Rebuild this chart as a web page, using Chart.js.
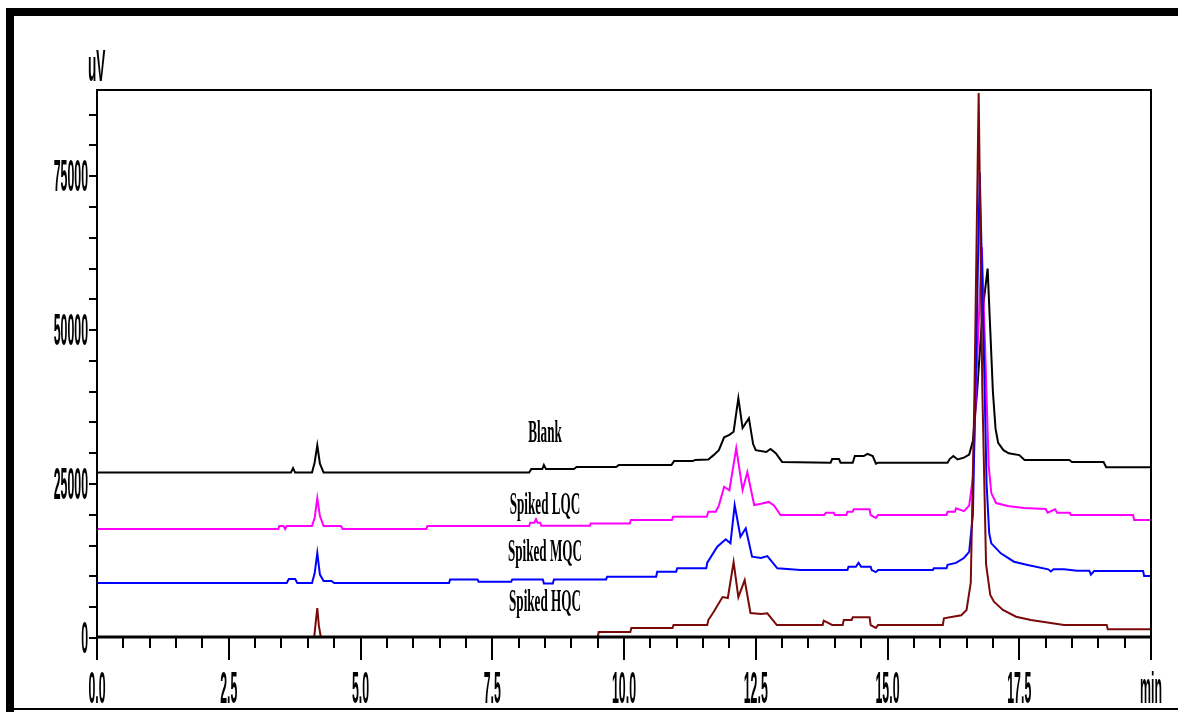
<!DOCTYPE html>
<html>
<head>
<meta charset="utf-8">
<script src="https://cdn.jsdelivr.net/npm/chart.js@4.4.1/dist/chart.umd.min.js"></script>
<style>
  body { margin: 0; background: #fff; }
  #wrap { width: 1178px; height: 712px; }
</style>
</head>
<body>
<div id="wrap"><canvas id="canvas" width="1178" height="712"></canvas></div>
<script>
// retention time (min) and signal (uV) for each run
const blankTime = [0, 3.68, 3.72, 3.76, 4.08, 4.13, 4.18, 4.23, 4.3, 8.2, 8.24, 8.45, 8.48, 8.52, 9.05, 9.1, 9.85, 9.9, 10.9, 10.95, 11.3, 11.35, 11.6, 11.7, 11.8, 11.9, 12.0, 12.08, 12.17, 12.25, 12.37, 12.45, 12.5, 12.7, 12.78, 12.88, 13.0, 13.92, 13.95, 14.08, 14.11, 14.34, 14.38, 14.55, 14.62, 14.72, 14.78, 14.82, 14.93, 16.14, 16.18, 16.25, 16.33, 16.45, 16.55, 16.62, 16.7, 16.78, 16.83, 16.9, 16.95, 17.0, 17.05, 17.1, 17.2, 17.3, 17.5, 17.6, 18.45, 18.5, 19.1, 19.15, 20];
const blankSignal = [26870, 26870, 27600, 26870, 26870, 28500, 31300, 28300, 26870, 26870, 27430, 27430, 28100, 27430, 27430, 27760, 27760, 28080, 28080, 28730, 28730, 28900, 29000, 29700, 30500, 32600, 33000, 33500, 38950, 34100, 35700, 31500, 30500, 30200, 30700, 30000, 28600, 28460, 29060, 29060, 28460, 28460, 29550, 29550, 29900, 29550, 28300, 28460, 28460, 28460, 29060, 29550, 29000, 29300, 29800, 32000, 40000, 50000, 55000, 60000, 50000, 40000, 34000, 31700, 30500, 30000, 29700, 28900, 28900, 28570, 28570, 27750, 27750];

const lqcTime = [0, 3.44, 3.46, 3.54, 3.57, 3.6, 4.08, 4.13, 4.18, 4.23, 4.3, 4.63, 4.66, 6.25, 6.27, 8.2, 8.22, 8.3, 8.33, 8.36, 8.41, 8.43, 9.35, 9.37, 10.11, 10.13, 10.91, 10.93, 11.57, 11.6, 11.74, 11.8, 11.9, 12.0, 12.13, 12.25, 12.34, 12.47, 12.6, 12.75, 12.85, 12.97, 13.8, 13.83, 13.98, 14.0, 14.22, 14.24, 14.34, 14.36, 14.66, 14.68, 14.78, 14.82, 16.12, 16.14, 16.28, 16.3, 16.45, 16.55, 16.62, 16.7, 16.79, 16.86, 16.92, 16.97, 17.06, 17.28, 17.59, 18.0, 18.04, 18.18, 18.22, 18.46, 18.48, 19.66, 19.68, 20];
const lqcSignal = [17690, 17690, 18180, 18180, 17700, 18180, 18180, 19500, 22720, 19800, 18180, 18180, 17690, 17690, 18180, 18180, 18720, 18720, 19300, 18720, 18720, 18230, 18230, 18610, 18610, 19160, 19160, 19700, 19700, 20510, 20510, 21500, 24560, 24000, 30840, 24030, 26950, 21590, 21800, 22100, 21500, 19970, 19970, 20340, 20340, 19970, 19970, 20510, 20510, 20890, 20890, 19970, 19500, 19970, 19970, 20510, 20510, 21050, 20600, 21500, 26000, 45000, 63500, 45000, 28000, 23540, 21920, 21430, 21100, 20940, 20340, 20900, 20340, 20340, 19970, 19970, 19160, 19160];

const mqcTime = [0, 3.6, 3.64, 3.76, 3.8, 4.08, 4.13, 4.18, 4.23, 4.3, 4.45, 4.5, 6.68, 6.7, 7.22, 7.24, 7.86, 7.88, 8.46, 8.48, 8.65, 8.67, 9.66, 9.68, 10.61, 10.63, 10.99, 11.01, 11.56, 11.58, 11.77, 11.93, 12.02, 12.1, 12.21, 12.31, 12.43, 12.6, 12.72, 12.91, 13.35, 14.24, 14.26, 14.4, 14.45, 14.5, 14.68, 14.7, 14.78, 14.82, 14.93, 15.86, 15.88, 16.12, 16.14, 16.3, 16.45, 16.55, 16.62, 16.68, 16.75, 16.82, 16.88, 16.93, 16.97, 17.15, 17.4, 17.66, 18.05, 18.1, 18.15, 18.35, 18.6, 18.83, 18.86, 18.92, 19.85, 19.87, 20];
const mqcSignal = [8930, 8930, 9580, 9580, 8930, 8930, 10500, 13800, 10300, 9250, 9250, 8930, 8930, 9520, 9520, 9140, 9140, 9520, 9520, 8870, 8870, 9520, 9520, 9960, 9960, 10770, 10770, 11310, 11310, 12230, 14820, 16020, 15370, 21590, 16450, 17810, 13200, 13000, 13300, 11310, 11040, 11040, 11580, 11580, 12230, 11580, 11580, 11040, 10700, 11040, 11040, 11040, 11310, 11310, 11900, 12200, 12990, 14000, 20000, 45000, 75600, 50000, 25000, 17000, 15370, 13750, 12390, 11850, 11150, 10800, 11150, 11150, 10930, 10930, 10300, 10870, 10870, 10070, 10070];

const hqcTime = [0, 4.12, 4.15, 4.18, 4.21, 4.25, 9.5, 9.52, 10.12, 10.14, 10.92, 10.94, 11.58, 11.6, 11.7, 11.87, 11.97, 12.08, 12.17, 12.29, 12.4, 12.6, 12.72, 12.9, 13.77, 13.79, 13.95, 14.15, 14.17, 14.32, 14.34, 14.66, 14.68, 14.78, 14.82, 16.05, 16.07, 16.4, 16.5, 16.58, 16.65, 16.73, 16.8, 16.87, 16.95, 17.02, 17.19, 17.44, 17.72, 18.35, 19.16, 19.18, 20];
const hqcSignal = [0, 0, 2500, 4870, 2000, 0, 0, 970, 970, 1620, 1620, 2110, 2110, 2920, 4220, 6650, 6500, 12330, 6650, 9410, 4060, 3900, 4000, 2110, 2110, 2810, 2110, 2110, 2920, 2920, 3350, 3350, 2110, 1650, 2110, 2110, 3190, 3700, 4550, 9000, 40000, 88500, 40000, 12000, 7000, 5900, 4550, 3460, 2920, 2110, 2110, 1410, 1410];

// axis ticks
const xTickValues = [0, 2.5, 5, 7.5, 10, 12.5, 15, 17.5, 20];
const xTickLabels = ['0.0', '2.5', '5.0', '7.5', '10.0', '12.5', '15.0', '17.5', 'min'];
const yTickValues = [0, 25000, 50000, 75000];
const yTickLabels = ['0', '25000', '50000', '75000'];

// trace names written in the plot
const traceNames = ['Blank', 'Spiked LQC', 'Spiked MQC', 'Spiked HQC'];
const nameTime = [8.5, 8.5, 8.5, 8.5];
const nameSignal = [31800, 20100, 12500, 4400];

function toPoints(t, s) {
    let pts = [];
    for (let i = 0; i < t.length; i++) {
        pts.push({x: t[i], y: s[i]});
    }
    return pts;
}

function narrowText(ctx, text, x, y, font, sx, align) {
    ctx.save();
    ctx.translate(x, y);
    ctx.scale(sx, 1);
    ctx.font = font;
    ctx.textAlign = align;
    ctx.textBaseline = 'alphabetic';
    ctx.fillStyle = '#000';
    ctx.fillText(text, 0, 0);
    ctx.restore();
}

const tickFont = 'bold 44px "Liberation Sans", Arial, sans-serif';
const nameFont = 'bold 32px "Liberation Serif", "Times New Roman", serif';

const chromPlugin = {
    id: 'chrom',
    beforeDraw(chart) {
        let ctx = chart.ctx;
        ctx.save();
        ctx.fillStyle = '#fff';
        ctx.fillRect(0, 0, chart.width, chart.height);
        // outer border of the figure
        ctx.fillStyle = '#000';
        ctx.fillRect(6, 8, 1172, 8);
        ctx.fillRect(6, 8, 8, 704);
        ctx.fillRect(14, 708, 1164, 2);
        ctx.restore();
    },
    afterDatasetsDraw(chart) {
        let ctx = chart.ctx;
        let a = chart.chartArea;
        let xs = chart.scales.x;
        let ys = chart.scales.y;
        ctx.save();
        ctx.strokeStyle = '#000';
        ctx.lineCap = 'butt';

        // frame
        ctx.lineWidth = 2;
        ctx.beginPath();
        ctx.moveTo(a.left, a.bottom);
        ctx.lineTo(a.left, a.top);
        ctx.lineTo(a.right, a.top);
        ctx.lineTo(a.right, a.bottom);
        ctx.stroke();
        ctx.lineWidth = 3;
        ctx.beginPath();
        ctx.moveTo(a.left - 1, a.bottom - 1);
        ctx.lineTo(a.right + 1, a.bottom - 1);
        ctx.stroke();

        // y ticks every 5000
        ctx.lineWidth = 2;
        for (let v = 0; v <= 85000; v += 5000) {
            let y = Math.round(ys.getPixelForValue(v));
            ctx.beginPath();
            ctx.moveTo(a.left - 8, y);
            ctx.lineTo(a.left, y);
            ctx.stroke();
        }
        yTickValues.forEach(function (v, i) {
            let y = ys.getPixelForValue(v);
            narrowText(ctx, yTickLabels[i], a.left - 9, y + 15, tickFont, 0.28, 'right');
        });

        // x ticks every 0.5 min, long ones every 2.5
        for (let k = 0; k <= 40; k++) {
            let t = k * 0.5;
            let x = Math.round(xs.getPixelForValue(t));
            let len = (k % 5 === 0) ? 22 : 10;
            ctx.beginPath();
            ctx.moveTo(x, a.bottom);
            ctx.lineTo(x, a.bottom + len);
            ctx.stroke();
        }
        xTickValues.forEach(function (t, i) {
            let x = xs.getPixelForValue(t);
            narrowText(ctx, xTickLabels[i], x, 703, tickFont, 0.28, 'center');
        });

        narrowText(ctx, 'uV', 88, 81, tickFont, 0.31, 'left');

        traceNames.forEach(function (name, i) {
            let x = xs.getPixelForValue(nameTime[i]);
            let y = ys.getPixelForValue(nameSignal[i]);
            narrowText(ctx, name, x, y, nameFont, 0.41, 'center');
        });
        ctx.restore();
    }
};

let ctx = document.getElementById('canvas').getContext('2d');
let myChart = new Chart(ctx, {
    type: 'line',
    data: {
        datasets: [
            {label: 'Spiked HQC', data: toPoints(hqcTime, hqcSignal), borderColor: '#7a0a0a', order: 0},
            {label: 'Spiked MQC', data: toPoints(mqcTime, mqcSignal), borderColor: '#0000ff', order: 1},
            {label: 'Spiked LQC', data: toPoints(lqcTime, lqcSignal), borderColor: '#ff00ff', order: 2},
            {label: 'Blank', data: toPoints(blankTime, blankSignal), borderColor: '#000000', order: 3}
        ]
    },
    options: {
        responsive: false,
        animation: false,
        devicePixelRatio: 1,
        parsing: false,
        layout: {
            padding: {left: 97, top: 90, right: 27, bottom: 74}
        },
        elements: {
            line: {borderWidth: 2, tension: 0},
            point: {radius: 0}
        },
        plugins: {
            legend: {display: false},
            tooltip: {enabled: false}
        },
        scales: {
            x: {type: 'linear', min: 0, max: 20, display: false},
            y: {type: 'linear', min: 0, max: 89000, display: false}
        }
    },
    plugins: [chromPlugin]
});
</script>
</body>
</html>
